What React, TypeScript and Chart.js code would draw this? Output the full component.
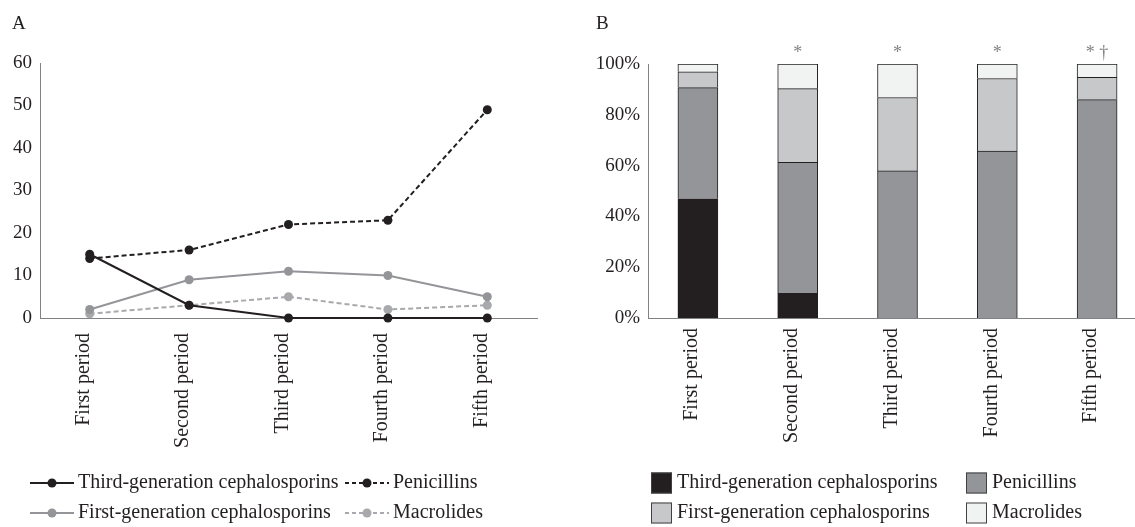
import { useEffect, useRef } from "react";
import { Chart, registerables } from "chart.js";

Chart.register(...registerables);

const periods = ["First period", "Second period", "Third period", "Fourth period", "Fifth period"];
const seriesNames = [
  "Third-generation cephalosporins",
  "Penicillins",
  "First-generation cephalosporins",
  "Macrolides",
];

// Panel A: counts
const thirdGenCounts = [15, 3, 0, 0, 0];
const penicillinCounts = [14, 16, 22, 23, 49];
const firstGenCounts = [2, 9, 11, 10, 5];
const macrolideCounts = [1, 3, 5, 2, 3];
const countMax = 60;
const countStep = 10;

// Panel B: percentages
const thirdGenPct = [46.9, 9.7, 0, 0, 0];
const penicillinPct = [43.8, 51.6, 57.9, 65.7, 86.0];
const firstGenPct = [6.2, 29.0, 28.9, 28.6, 8.8];
const macrolidePct = [3.1, 9.7, 13.2, 5.7, 5.2];
const pctMax = 100;
const pctStep = 20;
const significance = ["", "*", "*", "*", "* \u2020"];

const FONT = "'Liberation Serif', 'Times New Roman', serif";
const INK = "#231f20";
const AXIS = "#808285";

const overlay = {
  id: "overlay",
  afterDraw(chart: any, _args: any, opts: any) {
    const ctx = chart.ctx as CanvasRenderingContext2D;
    ctx.save();
    ctx.textAlign = "left";
    ctx.textBaseline = "middle";
    if (opts.panel) {
      ctx.font = `19px ${FONT}`;
      ctx.fillStyle = INK;
      ctx.fillText(opts.panel.text, opts.panel.x, opts.panel.y);
    }
    if (opts.legend) {
      const { cols, rows, sampleWidth, textGap, kind } = opts.legend;
      chart.data.datasets.forEach((ds: any, i: number) => {
        const x = cols[i % 2];
        const y = rows[Math.floor(i / 2)];
        if (kind === "line") {
          ctx.strokeStyle = ds.borderColor;
          ctx.lineWidth = 2;
          ctx.setLineDash(ds.borderDash ? [4, 3] : []);
          ctx.beginPath();
          ctx.moveTo(x, y);
          ctx.lineTo(x + sampleWidth, y);
          ctx.stroke();
          ctx.setLineDash([]);
          ctx.fillStyle = ds.pointBackgroundColor;
          ctx.beginPath();
          ctx.arc(x + sampleWidth / 2, y, 4.5, 0, Math.PI * 2);
          ctx.fill();
        } else {
          ctx.fillStyle = ds.backgroundColor;
          ctx.fillRect(x, y - 10.5, 21, 21);
          ctx.strokeStyle = "#414042";
          ctx.lineWidth = 1;
          ctx.strokeRect(x + 0.5, y - 10, 20, 20);
        }
        ctx.font = `20px ${FONT}`;
        ctx.fillStyle = INK;
        ctx.textBaseline = "middle";
        ctx.fillText(ds.label, x + sampleWidth + textGap, y);
      });
    }
    if (opts.marks) {
      const meta = chart.getDatasetMeta(chart.data.datasets.length - 1);
      ctx.font = `18px ${FONT}`;
      ctx.fillStyle = "#808285";
      ctx.textAlign = "center";
      ctx.textBaseline = "alphabetic";
      opts.marks.forEach((t: string, i: number) => {
        const el = meta.data[i];
        if (el && t) ctx.fillText(t, el.x, el.y - 6);
      });
    }
    ctx.restore();
  },
};

function lineSet(label: string, data: number[], color: string, dashed: boolean) {
  return {
    label,
    data,
    borderColor: color,
    backgroundColor: color,
    pointBackgroundColor: color,
    pointBorderColor: color,
    pointBorderWidth: 0,
    pointRadius: 4.5,
    borderWidth: 2,
    borderDash: dashed ? [5, 3] : undefined,
    tension: 0,
    clip: false as const,
  };
}

function barSet(label: string, data: number[], color: string) {
  return {
    label,
    data,
    backgroundColor: color,
    borderColor: INK,
    borderWidth: 1,
    barThickness: 40,
  };
}

export default function App() {
  const leftRef = useRef<HTMLCanvasElement>(null);
  const rightRef = useRef<HTMLCanvasElement>(null);

  useEffect(() => {
    Chart.defaults.font.family = FONT;
    Chart.defaults.font.size = 19;
    Chart.defaults.color = INK;

    const left = new Chart(leftRef.current!, {
      type: "line",
      data: {
        labels: periods,
        datasets: [
          lineSet(seriesNames[0], thirdGenCounts, INK, false),
          lineSet(seriesNames[1], penicillinCounts, INK, true),
          lineSet(seriesNames[2], firstGenCounts, "#939598", false),
          lineSet(seriesNames[3], macrolideCounts, "#a7a9ac", true),
        ],
      },
      options: {
        responsive: false,
        animation: false,
        events: [],
        layout: { padding: { top: 63, left: 0, right: 23, bottom: 0 } },
        plugins: {
          legend: { display: false },
          tooltip: { enabled: false },
          overlay: {
            panel: { text: "A", x: 12, y: 24 },
            legend: { kind: "line", cols: [30, 345], rows: [483, 513], sampleWidth: 44, textGap: 4 },
          },
        } as any,
        scales: {
          x: {
            type: "category",
            offset: true,
            grid: { display: false, drawTicks: false },
            border: { color: AXIS, width: 1 },
            ticks: { minRotation: 90, maxRotation: 90, padding: 15, labelOffset: -6, font: { size: 20 } },
            afterFit: (s: any) => {
              s.height = 209;
            },
          },
          y: {
            min: 0,
            max: countMax,
            grid: { display: false, drawTicks: false },
            border: { color: AXIS, width: 1 },
            ticks: { stepSize: countStep, padding: 8 },
            afterFit: (s: any) => {
              s.width = 40;
            },
          },
        },
      },
      plugins: [overlay],
    });

    const right = new Chart(rightRef.current!, {
      type: "bar",
      data: {
        labels: periods,
        datasets: [
          barSet(seriesNames[0], thirdGenPct, INK),
          barSet(seriesNames[1], penicillinPct, "#939598"),
          barSet(seriesNames[2], firstGenPct, "#c7c8ca"),
          barSet(seriesNames[3], macrolidePct, "#f1f2f2"),
        ],
      },
      options: {
        responsive: false,
        animation: false,
        events: [],
        layout: { padding: { top: 64, left: 0, right: 3, bottom: 0 } },
        plugins: {
          legend: { display: false },
          tooltip: { enabled: false },
          overlay: {
            panel: { text: "B", x: 16, y: 24 },
            legend: { kind: "box", cols: [71, 386], rows: [483, 513], sampleWidth: 21, textGap: 5 },
            marks: significance,
          },
        } as any,
        scales: {
          x: {
            type: "category",
            stacked: true,
            offset: true,
            grid: { display: false, drawTicks: false },
            border: { color: AXIS, width: 1 },
            ticks: { minRotation: 90, maxRotation: 90, padding: 10, labelOffset: -6, font: { size: 20 } },
            afterFit: (s: any) => {
              s.height = 209;
            },
          },
          y: {
            stacked: true,
            min: 0,
            max: pctMax,
            grid: { display: false, drawTicks: false },
            border: { color: AXIS, width: 1 },
            ticks: { stepSize: pctStep, padding: 8, callback: (v: any) => `${v}%` },
            afterFit: (s: any) => {
              s.width = 68;
            },
          },
        },
      },
      plugins: [overlay],
    });

    return () => {
      left.destroy();
      right.destroy();
    };
  }, []);

  return (
    <div
      style={{
        position: "absolute",
        left: 0,
        top: 0,
        width: 1135,
        height: 527,
        overflow: "hidden",
        background: "#ffffff",
      }}
    >
      <canvas
        ref={leftRef}
        width={560}
        height={527}
        style={{ position: "absolute", left: 0, top: 0, width: 560, height: 527 }}
      />
      <canvas
        ref={rightRef}
        width={570}
        height={527}
        style={{ position: "absolute", left: 580, top: 0, width: 570, height: 527 }}
      />
    </div>
  );
}
